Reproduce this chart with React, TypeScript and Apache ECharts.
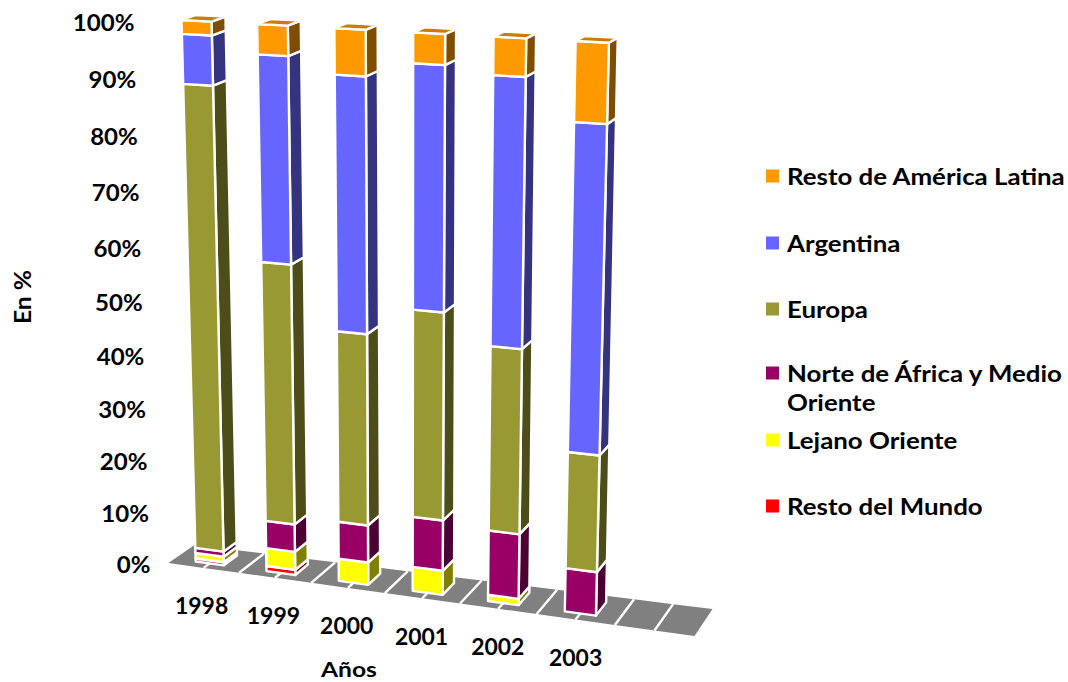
import React, { useEffect, useRef } from "react";
import * as echarts from "echarts";

const CATEGORIES = ["1998", "1999", "2000", "2001", "2002", "2003", ""];
const Y_TICKS = [0, 10, 20, 30, 40, 50, 60, 70, 80, 90, 100];

const RESTO_MUNDO = [0.6, 1.0, 0, 0, 0, 0];
const LEJANO_ORIENTE = [1.1, 3.5, 4.3, 4.6, 1.2, 0];
const NORTE_AFRICA = [1.0, 5.3, 7.1, 9.5, 12.1, 8.1];
const EUROPA = [86.2, 48.4, 35.5, 38.0, 33.6, 21.3];
const ARGENTINA = [8.7, 36.6, 45.2, 42.7, 46.7, 57.2];
const RESTO_AL = [2.4, 5.2, 7.9, 5.2, 6.4, 13.4];

const FONT = "Lato, sans-serif";
const TEXT_SIZE = 22.5;

// stack order: bottom to top
const STACK = [
  { name: "Resto del Mundo", values: RESTO_MUNDO, front: "#FF0000", side: "#800000", top: "#CC0000" },
  { name: "Lejano Oriente", values: LEJANO_ORIENTE, front: "#FFFF00", side: "#808000", top: "#CCCC00" },
  { name: "Norte de África y Medio\nOriente", values: NORTE_AFRICA, front: "#990066", side: "#4D0033", top: "#7A0052" },
  { name: "Europa", values: EUROPA, front: "#999933", side: "#4D4D1A", top: "#7A7A29" },
  { name: "Argentina", values: ARGENTINA, front: "#6666FF", side: "#333380", top: "#5252CC" },
  { name: "Resto de América Latina", values: RESTO_AL, front: "#FF9900", side: "#804D00", top: "#CC7A00" },
];

// Legend rows, top to bottom, with the row's centre line in pixels
const LEGEND_ROWS: [number, number][] = [
  [5, 176], [4, 243], [3, 309], [2, 373], [1, 440], [0, 506],
];

// The eight corners of the chart's 3-D box on the page: [floor, top] x [front, back] x [left, right]
const BOX = {
  floor: { fl: [168.5, 563], fr: [694.5, 636], bl: [194.5, 545], br: [712.5, 609] },
  roof: { fl: [152.4, 21.1], fr: [715.3, 50.9], bl: [180.4, 11.5], br: [729.6, 41.3] },
};
const warp = (t: number) => t * (0.93 + 0.07 * t);
const mix = (a: number[], b: number[], t: number) => [a[0] + (b[0] - a[0]) * t, a[1] + (b[1] - a[1]) * t];

// tx, ty, d are 0..1: along the floor, up the value axis, from front to back
function project(tx: number, ty: number, d: number) {
  const s = warp(tx);
  const plane = (p: typeof BOX.floor) => mix(mix(p.fl, p.fr, s), mix(p.bl, p.br, s), d);
  return mix(plane(BOX.floor), plane(BOX.roof), warp(ty));
}

const DEPTH_FRONT = 0.24;
const DEPTH_BACK = 0.76;
const BAR_SHARE = 0.2; // half the bar's width, as a share of the category band

const WHITE_EDGE = { stroke: "#FFFFFF", lineWidth: 2.4, lineJoin: "round" };

function normaliser(params: any) {
  const c = params.coordSys;
  return (px: number[]) => [(px[0] - c.x) / c.width, (c.y + c.height - px[1]) / c.height];
}

function renderFloor(params: any, api: any) {
  const norm = normaliser(params);
  const cat = api.value(0);
  const cx = api.coord([cat, 0]);
  const band = api.size([1, 0])[0];
  const [tc] = norm(cx);
  const half = norm([cx[0] + band / 2, cx[1]])[0] - tc;
  const tile = (a: number, b: number) => ({
    type: "polygon",
    shape: { points: [project(a, 0, 0), project(b, 0, 0), project(b, 0, 1), project(a, 0, 1)] },
    style: { fill: "#808080" },
  });
  const divider = (t: number) => {
    const p = project(t, 0, 0);
    const q = project(t, 0, 1);
    return {
      type: "line",
      z2: 2,
      shape: { x1: p[0], y1: p[1], x2: q[0], y2: q[1] },
      style: { stroke: "#FFFFFF", lineWidth: 2.4 },
    };
  };
  const children: any[] = [tile(tc - half, tc), tile(tc, tc + half), divider(tc)];
  if (cat > 0) children.push(divider(tc - half));
  return { type: "group", children };
}

function renderSegment(stackIndex: number) {
  return (params: any, api: any) => {
    const norm = normaliser(params);
    const cat = api.value(0);
    const start = api.value(1);
    const end = api.value(2);
    if (end <= start) return null;
    const a = api.coord([cat, start]);
    const b = api.coord([cat, end]);
    const band = api.size([1, 0])[0];
    const l = norm([a[0] - band * BAR_SHARE, a[1]])[0];
    const r = norm([a[0] + band * BAR_SHARE, a[1]])[0];
    const y0 = norm(a)[1];
    const y1 = norm(b)[1];
    const s = STACK[stackIndex];
    const poly = (pts: number[][], fill: string) => ({
      type: "polygon",
      shape: { points: pts },
      style: { fill, ...WHITE_EDGE },
    });
    const children: any[] = [
      poly([project(r, y0, DEPTH_FRONT), project(r, y0, DEPTH_BACK), project(r, y1, DEPTH_BACK), project(r, y1, DEPTH_FRONT)], s.side),
      poly([project(l, y0, DEPTH_FRONT), project(r, y0, DEPTH_FRONT), project(r, y1, DEPTH_FRONT), project(l, y1, DEPTH_FRONT)], s.front),
    ];
    if (end >= 99.9) {
      children.push(poly([project(l, y1, DEPTH_FRONT), project(r, y1, DEPTH_FRONT), project(r, y1, DEPTH_BACK), project(l, y1, DEPTH_BACK)], s.top));
    }
    return { type: "group", children };
  };
}

const labelStyle = { fill: "#000000", fontFamily: FONT, fontWeight: 700, fontSize: TEXT_SIZE };

function renderYLabel(params: any, api: any) {
  const norm = normaliser(params);
  const tick = api.value(1);
  const ty = norm(api.coord([0, tick]))[1];
  const p = project(0, ty, 0);
  return {
    type: "text",
    x: p[0] - 18,
    y: p[1] + 1,
    scaleX: 1.07,
    style: { ...labelStyle, x: 0, y: 0, text: `${tick}%`, align: "right", verticalAlign: "middle" },
  };
}

function renderXLabel(params: any, api: any) {
  const norm = normaliser(params);
  const i = api.value(0);
  const tx = norm(api.coord([i, 0]))[0];
  const p = project(tx, 0, 0);
  return {
    type: "text",
    x: p[0] - 2 + i * 0.4,
    y: p[1] + 38,
    scaleX: 1.02,
    style: { ...labelStyle, x: 0, y: 0, text: CATEGORIES[i], align: "center", verticalAlign: "middle" },
  };
}

function buildOption() {
  const cumulative = CATEGORIES.map(() => 0);
  const segmentSeries = STACK.map((s, k) => ({
    type: "custom",
    name: s.name,
    renderItem: renderSegment(k),
    clip: false,
    silent: true,
    z: 3,
    encode: { x: 0, y: [1, 2] },
    data: s.values.map((v, i) => {
      const from = cumulative[i];
      cumulative[i] += v;
      return [i, from, from + v];
    }),
  }));
  const legendGraphics: any[] = [];
  LEGEND_ROWS.forEach(([k, y]) => {
    legendGraphics.push({ type: "rect", shape: { x: 766, y: y - 6.5, width: 13, height: 13 }, style: { fill: STACK[k].front } });
    legendGraphics.push({
      type: "text",
      x: 787,
      y: y - 14,
      scaleX: 1.15,
      style: { ...labelStyle, text: STACK[k].name, lineHeight: 29, align: "left", verticalAlign: "top" },
    });
  });
  return {
    animation: false,
    backgroundColor: "#FFFFFF",
    grid: { left: 0, right: 0, top: 0, bottom: 0 },
    xAxis: { type: "category", data: CATEGORIES, show: false },
    yAxis: { type: "value", min: 0, max: 100, interval: 10, show: false },
    graphic: [
      { type: "text", rotation: Math.PI / 2, x: 22, y: 297, scaleX: 1.1, style: { ...labelStyle, text: "En %", align: "center", verticalAlign: "middle" } },
      { type: "text", x: 349, y: 669, scaleX: 1.2, style: { ...labelStyle, fontSize: 20.5, text: "Años", align: "center", verticalAlign: "middle" } },
      ...legendGraphics,
    ],
    series: [
      { type: "custom", renderItem: renderFloor, clip: false, silent: true, z: 1, encode: { x: 0, y: 1 }, data: CATEGORIES.map((_, i) => [i, 0]) },
      ...segmentSeries,
      { type: "custom", renderItem: renderYLabel, clip: false, silent: true, z: 4, encode: { x: 0, y: 1 }, data: Y_TICKS.map((t) => [0, t]) },
      { type: "custom", renderItem: renderXLabel, clip: false, silent: true, z: 4, encode: { x: 0, y: 1 }, data: CATEGORIES.slice(0, 6).map((_, i) => [i, 0]) },
    ],
  };
}

export default function App() {
  const ref = useRef<HTMLDivElement>(null);
  useEffect(() => {
    const chart = echarts.init(ref.current!, undefined, { renderer: "svg" });
    chart.setOption(buildOption() as any);
    return () => chart.dispose();
  }, []);
  return <div ref={ref} style={{ position: "absolute", left: 0, top: 0, width: 1068, height: 682 }} />;
}
